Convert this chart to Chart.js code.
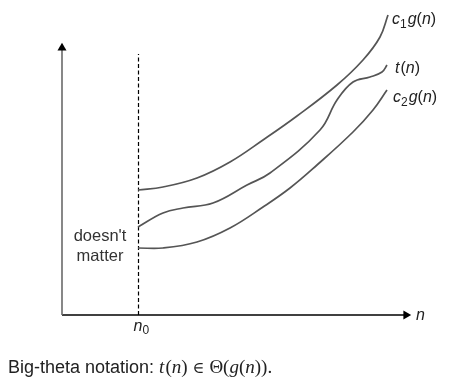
<!DOCTYPE html>
<html>
<head>
<meta charset="utf-8">
<script src="https://cdn.jsdelivr.net/npm/chart.js@4.4.1/dist/chart.umd.min.js"></script>
<style>
  html, body { margin: 0; padding: 0; background: #fff; }
  #wrap { width: 459px; height: 385px; position: relative; }
</style>
</head>
<body>
<div id="wrap"><canvas id="c" width="459" height="385"></canvas></div>
<script>
// ---- data (abstract units) ----
const n0 = 7.65;
const dashTop = 26.1;
const yAxisTop = 26.7;
const xAxisEnd = 34.4;

const c1X = [7.6, 10.1, 13.5, 16.8, 20.1, 23.5, 27.5, 30.1, 31.8, 32.6];
const c1Y = [12.5, 12.8, 13.7, 15.3, 17.5, 19.9, 23.0, 25.5, 27.8, 30.0];

const tX = [7.6, 10.1, 12.1, 15.1, 18.5, 20.8, 25.8, 27.5, 29.1, 30.8, 32.0, 32.5];
const tY = [8.8, 10.2, 10.7, 11.2, 13.0, 14.2, 18.5, 21.5, 23.3, 23.8, 24.3, 25.0];

const c2X = [7.6, 10.1, 13.5, 16.8, 20.1, 22.8, 25.5, 29.1, 31.1, 32.5];
const c2Y = [6.7, 6.7, 7.3, 8.7, 10.8, 12.7, 15.0, 18.3, 20.5, 22.5];

const curveLabels = ['c1g(n)', 't(n)', 'c2g(n)'];
const regionLabel = ["doesn't", 'matter'];
const caption = 'Big-theta notation: ';

const pts = (xs, ys) => xs.map((x, i) => ({ x, y: ys[i] }));

const curveStyle = {
  borderColor: '#555',
  borderWidth: 1.7,
  pointRadius: 0,
  fill: false,
  tension: 0.4
};

const SANS = '"Liberation Sans", Arial, sans-serif';
const SERIF = '"Liberation Serif", "Times New Roman", serif';

function drawRich(ctx, x, y, parts) {
  let cx = x;
  ctx.textBaseline = 'alphabetic';
  ctx.textAlign = 'left';
  for (const p of parts) {
    ctx.font = p.font;
    ctx.fillText(p.t, cx, y + (p.dy || 0));
    cx += ctx.measureText(p.t).width + (p.after || 0);
  }
}

const textPlugin = {
  id: 'textPlugin',
  afterDatasetsDraw(chart) {
    const ctx = chart.ctx;
    const xs = chart.scales.x, ys = chart.scales.y;
    const X = v => xs.getPixelForValue(v);
    const Y = v => ys.getPixelForValue(v);
    ctx.save();
    ctx.fillStyle = '#222';
    const it = 'italic 16px ' + SANS;
    const up = '16px ' + SANS;
    const sub = '12px ' + SANS;

    // curve labels, anchored at curve ends
    let ex = c1X[c1X.length - 1], ey = c1Y[c1Y.length - 1];
    drawRich(ctx, X(ex) + 4, Y(ey) + 9, [
      { t: 'c', font: it }, { t: '1', font: sub, dy: 4, after: 1 },
      { t: 'g', font: it }, { t: '(', font: up }, { t: 'n', font: it }, { t: ')', font: up }
    ]);
    ex = tX[tX.length - 1]; ey = tY[tY.length - 1];
    drawRich(ctx, X(ex) + 8, Y(ey) + 8, [
      { t: 't', font: it, after: 1 }, { t: '(', font: up }, { t: 'n', font: it }, { t: ')', font: up }
    ]);
    ex = c2X[c2X.length - 1]; ey = c2Y[c2Y.length - 1];
    drawRich(ctx, X(ex) + 6, Y(ey) + 12, [
      { t: 'c', font: it }, { t: '2', font: sub, dy: 4, after: 1 },
      { t: 'g', font: it }, { t: '(', font: up }, { t: 'n', font: it }, { t: ')', font: up }
    ]);

    // axis labels
    drawRich(ctx, X(xAxisEnd) + 10, Y(0) + 5, [{ t: 'n', font: it }]);
    drawRich(ctx, X(n0) - 5, Y(0) + 16, [
      { t: 'n', font: it }, { t: '0', font: sub, dy: 3 }
    ]);

    // "doesn't matter"
    ctx.font = '16.5px ' + SANS;
    ctx.textAlign = 'center';
    ctx.textBaseline = 'middle';
    ctx.fillStyle = '#333';
    ctx.fillText(regionLabel[0], X(3.8), Y(7.9));
    ctx.fillText(regionLabel[1], X(3.8), Y(5.9));

    // caption
    ctx.fillStyle = '#222';
    drawRich(ctx, 8, 373, [
      { t: caption, font: '18px ' + SANS, after: 0 },
      { t: 't', font: 'italic 19px ' + SERIF, after: 1 },
      { t: '(', font: '19px ' + SERIF },
      { t: 'n', font: 'italic 19px ' + SERIF },
      { t: ')', font: '19px ' + SERIF, after: 5 },
      { t: '\u2208', font: '16px "DejaVu Serif", serif', after: 5 },
      { t: '\u0398', font: '19px ' + SERIF },
      { t: '(', font: '19px ' + SERIF },
      { t: 'g', font: 'italic 19px ' + SERIF },
      { t: '(', font: '19px ' + SERIF },
      { t: 'n', font: 'italic 19px ' + SERIF },
      { t: ')).', font: '19px ' + SERIF }
    ]);
    ctx.restore();
  }
};

new Chart(document.getElementById('c'), {
  type: 'line',
  data: {
    datasets: [
      { label: 'c1g(n)', data: pts(c1X, c1Y), ...curveStyle },
      { label: 't(n)', data: pts(tX, tY), ...curveStyle },
      { label: 'c2g(n)', data: pts(c2X, c2Y), ...curveStyle },
      {
        label: 'n0', data: [{ x: n0, y: 0 }, { x: n0, y: dashTop }],
        borderColor: '#000', borderWidth: 1.2, borderDash: [4, 2.5], pointRadius: 0
      },
      {
        label: 'y axis', data: [{ x: 0, y: 0 }, { x: 0, y: yAxisTop }],
        borderColor: '#6a6a6a', borderWidth: 1.6,
        pointRadius: [0, 5.2], pointStyle: 'triangle', rotation: 0,
        pointBackgroundColor: '#000', pointBorderColor: '#000', pointBorderWidth: 0
      },
      {
        label: 'x axis', data: [{ x: 0, y: 0 }, { x: xAxisEnd, y: 0 }],
        borderColor: '#000', borderWidth: 1.4,
        pointRadius: [0, 5.2], pointStyle: 'triangle', rotation: 90,
        pointBackgroundColor: '#000', pointBorderColor: '#000', pointBorderWidth: 0
      }
    ]
  },
  options: {
    responsive: false,
    animation: false,
    layout: { padding: { left: 62, right: 47, top: 15, bottom: 70 } },
    plugins: { legend: { display: false }, tooltip: { enabled: false }, title: { display: false } },
    clip: false,
    scales: {
      x: { type: 'linear', min: 0, max: 35, display: false },
      y: { type: 'linear', min: 0, max: 30, display: false }
    }
  },
  plugins: [textPlugin]
});
</script>
</body>
</html>
